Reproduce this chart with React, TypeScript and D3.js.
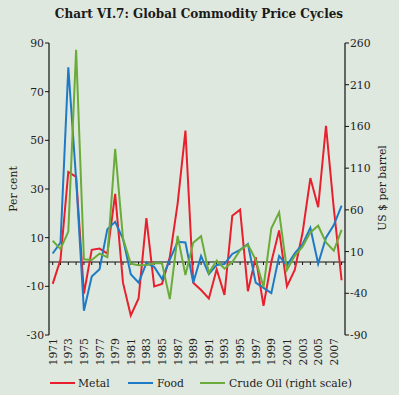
import React from "react";
import * as d3 from "d3";

const years = d3.range(1971, 2009);
const metal = [-9, 1, 37, 35, -13, 5, 5.5, 3.5, 28, -8.5, -22, -15, 18, -10, -9, 2, 24, 54, -8.5, -11.5, -15, -3, -13.5, 19, 21.5, -12, 2, -18, 0, 13, -10, -3.3, 12, 34.5, 22.5, 56, 22, -7.5];
const food = [3.5, 8, 80, 34, -20, -6, -3, 13.5, 16.5, 9.5, -5, -8.5, -0.5, -2, -7, 1, 8.3, 8, -8.5, 2.5, -5, -1.2, -0.8, 3.3, 5, 7.4, -8.5, -10.6, -12.8, 2.5, -1.5, 3.6, 7.3, 14, -0.7, 10, 15.2, 23.2];
const oil = [23, 13, 34, 252, 0.8, 0, 7.5, 3.2, 133, 26, -4.5, -6.5, -6, -4, -4, -47, 28.8, -18, 20.5, 28.5, -15.5, -0.8, -10.5, -2.6, 11.5, 18.5, 0, -32.5, 38, 57, -12, 4.8, 16, 33, 41, 21, 11, 36];
const leftTicks = [90, 70, 50, 30, 10, -10, -30];
const rightTicks = [260, 210, 160, 110, 60, 10, -40, -90];
const labelYears = d3.range(1971, 2009, 2);

const RED = "#e8202e";
const BLUE = "#1f7ac6";
const GREEN = "#6aab3a";
const FONT = "'DejaVu Serif', serif";

export default function App() {
  const W = 399, H = 395;
  const x = d3.scaleLinear().domain([1971, 2008]).range([52.7, 341.6]);
  const yL = d3.scaleLinear().domain([-30, 90]).range([335, 43]);
  const yR = d3.scaleLinear().domain([-90, 260]).range([335, 43]);
  const axL = 49, axR = 345;
  const lineL = (vals: number[]) =>
    d3.line<number>().x((_, i) => x(years[i])).y((d) => yL(d))(vals) || "";
  const lineR = (vals: number[]) =>
    d3.line<number>().x((_, i) => x(years[i])).y((d) => yR(d))(vals) || "";
  const y0 = yL(0);
  return (
    <svg width={W} height={H} style={{ position: "absolute", left: 0, top: 0 }} fontFamily={FONT}>
      <rect x={0} y={0} width={W} height={H} fill="#dfe8de" />
      <text x={199} y={18} textAnchor="middle" fontWeight="bold" fontSize={12} fill="#1a1a1a">
        Chart VI.7: Global Commodity Price Cycles
      </text>
      {/* left axis */}
      <line x1={axL} x2={axL} y1={yL(90)} y2={yL(-30)} stroke="#111" strokeWidth={1.2} />
      {leftTicks.map((t) => (
        <g key={"l" + t}>
          <line x1={axL - 4} x2={axL} y1={yL(t)} y2={yL(t)} stroke="#111" strokeWidth={1} />
          <text x={axL - 5} y={yL(t) + 4} textAnchor="end" fontSize={10.8} fill="#222">{t}</text>
        </g>
      ))}
      {/* right axis */}
      <line x1={axR} x2={axR} y1={yR(260)} y2={yR(-90)} stroke="#111" strokeWidth={1.2} />
      {rightTicks.map((t) => (
        <g key={"r" + t}>
          <line x1={axR} x2={axR + 4} y1={yR(t)} y2={yR(t)} stroke="#111" strokeWidth={1} />
          <text x={axR + 5} y={yR(t) + 4} textAnchor="start" fontSize={10.8} fill="#222">{t}</text>
        </g>
      ))}
      {/* zero line with year ticks */}
      <line x1={axL} x2={axR} y1={y0} y2={y0} stroke="#111" strokeWidth={1.2} />
      {years.map((yr) => (
        <line key={"t" + yr} x1={x(yr)} x2={x(yr)} y1={y0} y2={y0 + 3} stroke="#111" strokeWidth={1} />
      ))}
      {/* axis titles */}
      <text transform={`translate(17,189) rotate(-90)`} textAnchor="middle" fontSize={10.8} fill="#222">Per cent</text>
      <text transform={`translate(386,188) rotate(-90)`} textAnchor="middle" fontSize={10.8} fill="#222">US $ per barrel</text>
      {/* series */}
      <path d={lineL(metal)} fill="none" stroke={RED} strokeWidth={2} />
      <path d={lineL(food)} fill="none" stroke={BLUE} strokeWidth={2} />
      <path d={lineR(oil)} fill="none" stroke={GREEN} strokeWidth={2} />
      {/* x labels */}
      {labelYears.map((yr) => (
        <text key={"x" + yr} transform={`translate(${x(yr) + 4},338) rotate(-90)`} textAnchor="end" fontSize={10.8} fill="#222">{yr}</text>
      ))}
      {/* legend */}
      <line x1={50} x2={75} y1={383} y2={383} stroke={RED} strokeWidth={2} />
      <text x={78} y={387} fontSize={10.8} fill="#222">Metal</text>
      <line x1={128} x2={153} y1={383} y2={383} stroke={BLUE} strokeWidth={2} />
      <text x={157} y={387} fontSize={10.8} fill="#222">Food</text>
      <line x1={200} x2={225} y1={383} y2={383} stroke={GREEN} strokeWidth={2} />
      <text x={229} y={387} fontSize={10.8} fill="#222">Crude Oil (right scale)</text>
    </svg>
  );
}
